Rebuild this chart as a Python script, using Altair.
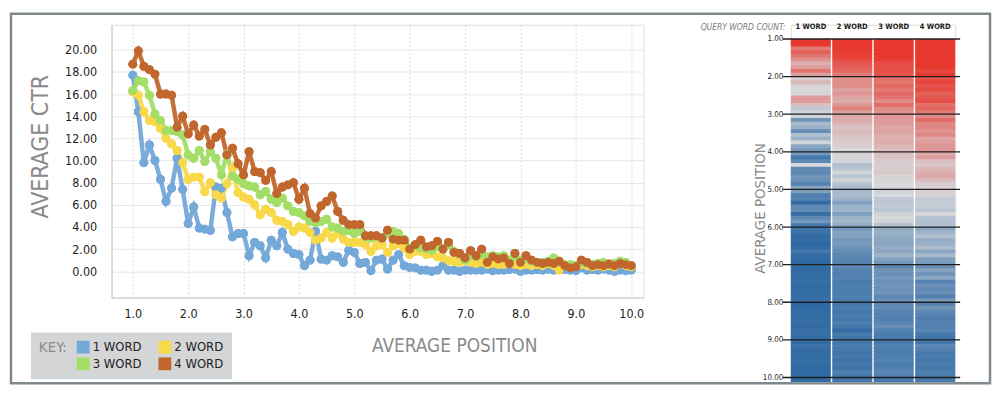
import altair as alt
import pandas as pd

# ---------------- data ----------------
positions = [round(1 + i / 10, 1) for i in range(91)]
series_names = ["1 WORD", "2 WORD", "3 WORD", "4 WORD"]
series_colors = ["#74a8d8", "#f8d94a", "#a3de67", "#c1662d"]

ctr_1_word = [17.7, 14.4, 9.8, 11.4, 10.0, 8.3, 6.3, 7.5, 10.2, 7.4,
              4.3, 5.8, 3.9, 3.8, 3.7, 7.6, 7.5, 5.3, 3.1, 3.4,
              3.4, 1.4, 2.6, 2.3, 1.2, 2.8, 2.3, 3.5, 2.0, 1.6,
              1.5, 0.5, 1.0, 3.6, 1.1, 1.0, 1.4, 1.3, 0.8, 1.9,
              1.7, 0.7, 0.8, 0.05, 1.0, 1.1, 0.2, 1.0, 1.5, 0.5,
              0.35, 0.3, 0.1, 0.1, 0.0, 0.1, 0.5, 0.1, 0.1, 0.0,
              0.1, 0.1, 0.1, 0.1, 0.2, 0.05, 0.1, 0.1, 0.15, 0.2,
              0.0, 0.1, 0.1, 0.15, 0.1, 0.2, 0.1, 0.2, 0.15, 0.1,
              0.05, 0.3, 0.1, 0.15, 0.1, 0.2, 0.1, 0.0, 0.1, 0.05,
              0.1]
ctr_2_word = [16.2, 15.9, 14.4, 13.6, 13.5, 12.9, 12.0, 11.5, 10.9, 9.8,
              8.3, 8.5, 8.5, 7.2, 8.0, 6.9, 6.6, 7.9, 9.3, 7.1,
              6.7, 6.5, 6.0, 5.1, 5.6, 5.3, 4.6, 4.5, 4.2, 3.6,
              4.0, 3.9, 3.5, 2.8, 3.0, 3.5, 3.0, 3.4, 2.9, 2.6,
              2.6, 2.6, 2.4, 1.8, 2.3, 2.4, 1.7, 2.3, 2.5, 2.1,
              1.5, 1.8, 1.8, 1.5, 1.6, 1.3, 1.2, 0.95, 0.9, 0.8,
              1.0, 0.8, 0.7, 0.8, 0.6, 0.7, 0.6, 0.6, 0.7, 0.6,
              0.5, 0.6, 0.5, 0.6, 0.5, 0.7, 0.5, 0.1, 0.5, 0.4,
              0.5, 0.6, 0.5, 0.4, 0.5, 0.4, 0.5, 0.4, 0.7, 0.5,
              0.4]
ctr_3_word = [16.3, 17.2, 17.1, 15.9, 14.2, 13.6, 12.7, 12.7, 12.6, 12.3,
              10.5, 10.2, 10.9, 9.9, 10.8, 10.2, 8.7, 10.6, 8.6, 8.3,
              7.9, 7.7, 7.6, 6.9, 7.2, 6.5, 6.2, 6.6, 5.9, 5.4,
              5.3, 5.0, 4.5, 4.4, 4.5, 4.7, 4.0, 3.9, 3.6, 3.7,
              3.4, 3.6, 3.1, 3.0, 3.1, 3.0, 3.4, 3.6, 3.4, 2.9,
              2.1, 2.3, 2.1, 2.0, 1.9, 2.2, 2.0, 2.4, 1.8, 1.5,
              1.0, 1.4, 1.3, 1.5, 1.3, 1.4, 1.3, 1.4, 1.0, 1.3,
              1.0, 1.1, 0.9, 0.8, 0.8, 0.9, 1.2, 0.8, 0.6, 0.6,
              0.5, 0.8, 0.7, 0.6, 0.7, 0.8, 0.6, 0.7, 0.9, 0.8,
              0.5]
ctr_4_word = [18.7, 19.9, 18.5, 18.2, 17.8, 16.0, 16.0, 15.9, 13.0, 14.0,
              12.4, 13.2, 12.2, 12.8, 11.4, 12.1, 12.5, 10.5, 11.1, 9.7,
              8.7, 10.8, 9.0, 8.9, 8.2, 9.0, 7.0, 7.6, 7.8, 8.0,
              6.5, 7.5, 5.2, 4.8, 5.9, 6.3, 6.8, 5.4, 4.6, 4.2,
              4.2, 4.2, 3.2, 3.2, 3.2, 3.0, 3.7, 2.9, 2.8, 2.8,
              2.0, 2.4, 2.8, 2.2, 2.3, 2.7, 2.0, 2.6, 1.7, 1.6,
              1.2, 1.85, 1.4, 2.0, 0.8, 1.3, 1.1, 1.2, 0.7, 1.6,
              0.8, 1.4, 1.0, 0.8, 0.7, 0.8, 0.7, 0.9, 0.5, 0.3,
              0.4, 1.0, 0.8, 0.5, 0.6, 0.5, 0.65, 0.5, 0.7, 0.6,
              0.5]

ctr_ticks = [0, 2, 4, 6, 8, 10, 12, 14, 16, 18, 20]
position_ticks = [1, 2, 3, 4, 5, 6, 7, 8, 9, 10]
heat_ticks = [1, 2, 3, 4, 5, 6, 7, 8, 9, 10]
heat_colors = ["#2e69a3", "#d7d9dc", "#e8392f"]
heat_stops = [0, 3.6, 14]

rows = []
for name, vals in zip(series_names, [ctr_1_word, ctr_2_word, ctr_3_word, ctr_4_word]):
    for p, v in zip(positions, vals):
        rows.append({"series": name, "position": p, "ctr": v})
df = pd.DataFrame(rows)

SANS = '"DejaVu Sans Condensed", "DejaVu Sans", sans-serif'
HAND = '"DejaVu Sans Condensed", "DejaVu Sans", sans-serif'
GREY_T = "#8a8a8a"

# ---------------- left: line chart ----------------
xenc = alt.X("position:Q",
             scale=alt.Scale(domain=[0.617, 10.22], nice=False, zero=False),
             axis=alt.Axis(values=position_ticks, format=".1f", title="AVERAGE POSITION",
                           titleFont=HAND, titleFontSize=19, titleFontWeight=200, titleColor=GREY_T,
                           titleX=344, titleY=48, titleAlign="center", titleBaseline="middle",
                           labelFont=SANS, labelFontSize=12.5, labelColor="#222", labelPadding=10,
                           ticks=False, tickSize=0, domainColor="#d6d6d6", domainWidth=1.5,
                           gridColor="#dadada", gridDash=[2, 2], gridWidth=1))
yenc = alt.Y("ctr:Q",
             scale=alt.Scale(domain=[-2.38, 22.26], nice=False, zero=False),
             axis=alt.Axis(values=ctr_ticks, format=".2f", title="AVERAGE CTR",
                           titleFont=HAND, titleFontSize=23, titleFontWeight=200, titleColor=GREY_T,
                           titleX=-71, titleY=122, titleAngle=270, titleAlign="center",
                           titleBaseline="middle",
                           labelFont=SANS, labelFontSize=12.5, labelColor="#222", labelPadding=15,
                           ticks=False, tickSize=0, domainColor="#d6d6d6", domainWidth=1.5,
                           gridColor="#e6e6e6", gridWidth=1))
cscale = alt.Scale(domain=series_names, range=series_colors)
key_legend = alt.Legend(title="KEY:", orient="none", legendX=-81, legendY=309,
                        columns=2, direction="horizontal", symbolType="square", symbolSize=165,
                        symbolOpacity=1, symbolStrokeWidth=0,
                        labelFont=SANS, labelFontSize=13, labelColor="#222",
                        labelOffset=3, columnPadding=16, rowPadding=3,
                        padding=8, fillColor="#d3d5d7",
                        titleOrient="left", titleFont=HAND, titleFontSize=15,
                        titleFontWeight=200, titleColor=GREY_T, titlePadding=9,
                        titleAnchor="start")
color_enc = alt.Color("series:N", scale=cscale, legend=key_legend)

base = alt.Chart(df).encode(x=xenc, y=yenc, color=color_enc)
points = base.mark_circle(size=80, opacity=1)
lines = base.mark_line(strokeWidth=4.5, opacity=0.95)

frame = alt.Chart(pd.DataFrame({"frame": [0]})).mark_rect(
    fillOpacity=0, stroke="#7e888d", strokeWidth=2.5).encode(
    x=alt.value(-101), x2=alt.value(882), y=alt.value(-11), y2=alt.value(360))

left = alt.layer(points, lines, points, frame).properties(width=534, height=274)

# ---------------- right: heatmap ----------------
hx = alt.X("series:N", scale=alt.Scale(domain=series_names, paddingInner=0.035, paddingOuter=0),
           axis=None)
hy_axis = alt.Axis(values=heat_ticks, format=".2f", title="AVERAGE POSITION",
                   titleFont=HAND, titleFontSize=15, titleFontWeight=200, titleColor=GREY_T,
                   titleX=-31, titleY=184, titleAngle=270, titleAlign="center",
                   titleBaseline="middle",
                   labelFont=SANS, labelFontSize=8, labelColor="#222", labelPadding=8,
                   ticks=False, tickSize=0, domain=False, grid=False)
hy_scale = alt.Scale(domain=[0.62, 10.1], nice=False, zero=False, reverse=True)

heat = alt.Chart(df).transform_calculate(pos_end="datum.position + 0.12").mark_rect().encode(
    x=hx,
    y=alt.Y("position:Q", scale=hy_scale, axis=hy_axis),
    y2="pos_end:Q",
    fill=alt.Fill("ctr:Q", scale=alt.Scale(domain=heat_stops, range=heat_colors,
                                           interpolate="rgb", clamp=True), legend=None))

rules = alt.Chart(pd.DataFrame({"position": heat_ticks})).mark_rule(
    color="#1f1f1f", strokeWidth=1.3).encode(
    y=alt.Y("position:Q", scale=hy_scale, axis=hy_axis),
    x=alt.value(-8), x2=alt.value(170))

headers = alt.Chart(pd.DataFrame({"series": series_names})).mark_text(
    font=SANS, fontSize=7.5, fontWeight="bold", color="#1a1a1a", baseline="middle").encode(
    x=hx, y=alt.value(2), text="series:N")

query_label = alt.Chart(pd.DataFrame({"label": ["QUERY WORD COUNT:"]})).mark_text(
    font=HAND, fontSize=8.5, fontStyle="italic", color="#7a7a7a", baseline="middle").encode(
    x=alt.value(-48), y=alt.value(2), text="label:N")

right = alt.layer(heat, rules, headers, query_label).properties(width=165, height=358)

chart = alt.hconcat(left, right, spacing=148, bounds="flush").properties(
    padding={"left": 1, "top": 3, "right": 0, "bottom": 0}
).configure_view(stroke="transparent").configure(background="white")

chart.save("out.html", embed_options={"renderer": "svg", "actions": False})
